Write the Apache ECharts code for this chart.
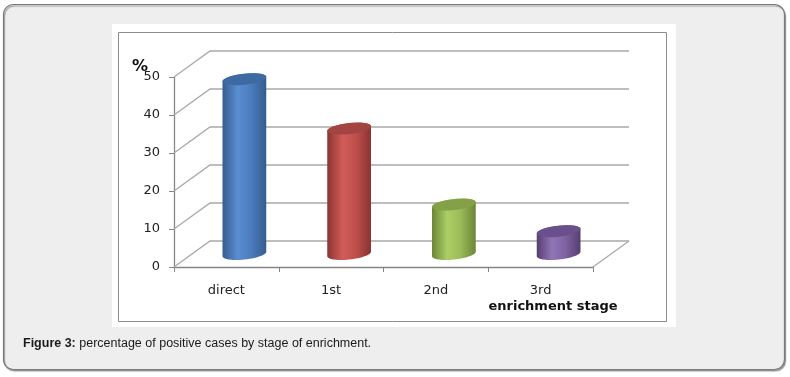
<!DOCTYPE html>
<html>
<head>
<meta charset="utf-8">
<script src="https://cdn.jsdelivr.net/npm/echarts@6/dist/echarts.min.js"></script>
<style>
  html, body { margin: 0; padding: 0; background: #ffffff; }
  #chart { width: 790px; height: 377px; }
</style>
</head>
<body>
<div id="chart"></div>
<script>
// data
const stages = ['direct', '1st', '2nd', '3rd'];
const positive = [46, 33, 13, 6];
const yTicks = [0, 10, 20, 30, 40, 50];

// office style cylinder colours: [edge, light, mid, top]
const cylColors = [
  ['#365d8e', '#5a8dd1', '#4a7cbd', '#3d6aa2'],
  ['#8a3432', '#d15c58', '#bf4f4b', '#a34442'],
  ['#6b8636', '#acce66', '#9bbb58', '#84a148'],
  ['#553e70', '#9176b7', '#7f63a1', '#694f8b']
];

const depthX = 36, depthY = -26;
const gridColor = '#a9a9a9';
const textFont = 'DejaVu Sans';

let myChart = echarts.init(document.getElementById('chart'), null, { renderer: 'canvas' });

function renderWalls(params, api) {
  const cs = params.coordSys;
  const left = cs.x, right = cs.x + cs.width;
  const kids = [];
  yTicks.forEach((v) => {
    const y = api.coord([0, v])[1];
    kids.push({
      type: 'polyline',
      shape: { points: [[left, y], [left + depthX, y + depthY], [right + depthX, y + depthY]] },
      style: { stroke: gridColor, lineWidth: 1.3, fill: null }
    });
  });
  // floor right edge
  const y0 = api.coord([0, 0])[1];
  kids.push({
    type: 'line',
    shape: { x1: right, y1: y0, x2: right + depthX, y2: y0 + depthY },
    style: { stroke: gridColor, lineWidth: 1.3 }
  });
  return { type: 'group', children: kids };
}

// point on a tilted ellipse (right side higher)
function ellPoint(cx, cy, a, b, phi, t) {
  const x = a * Math.cos(t), y = b * Math.sin(t);
  return [cx + x * Math.cos(phi) + y * Math.sin(phi), cy - x * Math.sin(phi) + y * Math.cos(phi)];
}

function renderCylinder(params, api) {
  const idx = params.dataIndex;
  const top = api.coord([api.value(0), api.value(1)]);
  const base = api.coord([api.value(0), 0]);
  const bw = api.size([1, 0])[0] * 0.42;
  const cx = top[0] + depthX / 2;
  const topY = top[1] + depthY / 2;
  const botY = base[1] + depthY / 2;
  const c = cylColors[idx];
  const a = bw / 2, b = 5.5, phi = 0.11;
  const t0 = Math.atan((b / a) * Math.tan(phi));
  const pts = [];
  const n = 30;
  for (let k = 0; k <= n; k++) pts.push(ellPoint(cx, botY, a, b, phi, t0 + Math.PI * k / n));
  for (let k = 0; k <= n; k++) pts.push(ellPoint(cx, topY, a, b, phi, t0 + Math.PI + Math.PI * k / n));
  const body = new echarts.graphic.LinearGradient(0, 0, 1, 0, [
    { offset: 0, color: c[0] },
    { offset: 0.35, color: c[1] },
    { offset: 0.65, color: c[2] },
    { offset: 1, color: c[0] }
  ]);
  return {
    type: 'group',
    children: [
      {
        type: 'polygon',
        shape: { points: pts },
        style: { fill: body }
      },
      {
        type: 'ellipse',
        x: cx, y: topY, rotation: phi,
        shape: { cx: 0, cy: 0, rx: a, ry: b },
        style: { fill: c[3] }
      }
    ]
  };
}

let option = {
  animation: false,
  backgroundColor: '#ffffff',
  grid: { left: 174, top: 77, width: 419, height: 190 },
  xAxis: {
    type: 'category',
    data: stages,
    axisLine: { lineStyle: { color: '#868686', width: 1.3 } },
    axisTick: { show: true, length: 5, alignWithLabel: false, lineStyle: { color: '#868686' } },
    axisLabel: { margin: 17, color: '#222', fontFamily: textFont, fontSize: 13 },
    splitLine: { show: false }
  },
  yAxis: {
    type: 'value',
    min: 0,
    max: 50,
    interval: 10,
    axisLine: { show: true, lineStyle: { color: '#868686', width: 1.3 } },
    axisTick: { show: true, length: 5, lineStyle: { color: '#868686' } },
    axisLabel: { margin: 14, color: '#222', fontFamily: textFont, fontSize: 13, padding: [8, 0, 0, 0] },
    splitLine: { show: false }
  },
  graphic: [
    {
      type: 'rect', z: -10,
      shape: { x: 3.5, y: 4.5, width: 781, height: 365, r: 10 },
      style: { fill: '#eeeeee', stroke: '#7a7a7a', lineWidth: 1.2,
        shadowColor: 'rgba(0,0,0,0.35)', shadowOffsetX: 1, shadowOffsetY: 1.5, shadowBlur: 1 }
    },
    {
      type: 'rect', z: -9,
      shape: { x: 112, y: 24, width: 564, height: 303 },
      style: { fill: '#ffffff' }
    },
    {
      type: 'rect', z: -8,
      shape: { x: 118.5, y: 32.5, width: 548, height: 289 },
      style: { fill: null, stroke: '#8c8c8c', lineWidth: 1 }
    },
    {
      type: 'text',
      x: 140, y: 67,
      style: { text: '%', fill: '#111', font: 'bold 16px "DejaVu Sans"', align: 'center', verticalAlign: 'middle' }
    },
    {
      type: 'text',
      x: 553, y: 307,
      style: { text: 'enrichment stage', fill: '#111', font: 'bold 13px "DejaVu Sans"', align: 'center', verticalAlign: 'middle' }
    },
    {
      type: 'text',
      x: 23, y: 344,
      style: {
        text: '{b|Figure 3:} percentage of positive cases by stage of enrichment.',
        fill: '#1a1a1a', font: '12.5px "Liberation Sans"', verticalAlign: 'middle',
        rich: { b: { fontWeight: 'bold', fontFamily: 'Liberation Sans', fontSize: 12.5, fill: '#1a1a1a' } }
      }
    }
  ],
  series: [
    {
      name: 'walls',
      type: 'custom',
      renderItem: renderWalls,
      data: [[0, 0]],
      z: 1,
      silent: true
    },
    {
      name: 'positive cases',
      type: 'custom',
      renderItem: renderCylinder,
      data: stages.map((s, i) => [s, positive[i]]),
      z: 3
    }
  ]
};

myChart.setOption(option);

window.addEventListener('resize', function() {
  myChart.resize();
});
</script>
</body>
</html>
